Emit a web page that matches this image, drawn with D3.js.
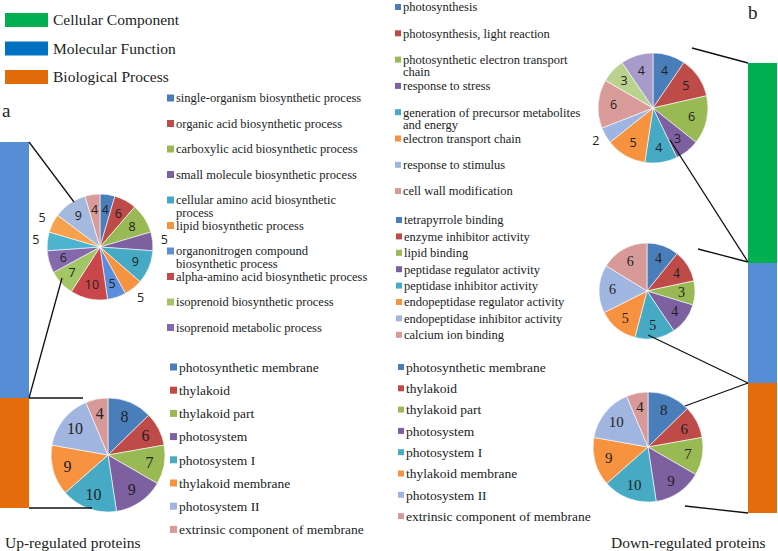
<!DOCTYPE html>
<html><head><meta charset="utf-8">
<script src="https://cdn.jsdelivr.net/npm/d3@7"></script>
<style>body{margin:0;background:#fff}svg{display:block}</style>
</head><body>
<svg id="chart" width="778" height="551"></svg>
<script>
// ---------- DATA ----------
const ontologyCategories = ["Cellular Component","Molecular Function","Biological Process"];
const ontologyColors = ["#00B050","#0070C0","#E36C0A"];

// Up-regulated, Biological Process (14 slices, 10 legend entries)
const upBPCategories = ["single-organism biosynthetic process","organic acid biosynthetic process","carboxylic acid biosynthetic process","small molecule biosynthetic process","cellular amino acid biosynthetic\nprocess","lipid biosynthetic process","organonitrogen compound\nbiosynthetic process","alpha-amino acid biosynthetic process","isoprenoid biosynthetic process","isoprenoid metabolic process"];
const upBPValues = [4,6,8,5,9,5,5,10,7,6,5,5,9,4];
const upBPOutside = [3,5,10,11];

// Cellular Component (same for up and down)
const ccCategories = ["photosynthetic membrane","thylakoid","thylakoid part","photosystem","photosystem I","thylakoid membrane","photosystem II","extrinsic component of membrane"];
const upCCValues = [8,6,7,9,10,9,10,4];
const downCCValues = [8,6,7,9,10,9,10,4];

// Down-regulated, Biological Process
const downBPCategories = ["photosynthesis","photosynthesis, light reaction","photosynthetic electron transport\nchain","response to stress","generation of precursor metabolites\nand energy","electron transport chain","response to stimulus","cell wall modification"];
const downBPValues = [4,5,6,3,4,5,2,6,3,4];
const downBPOutside = [6];

// Down-regulated, Molecular Function
const downMFCategories = ["tetrapyrrole binding","enzyme inhibitor activity","lipid binding","peptidase regulator activity","peptidase inhibitor activity","endopeptidase regulator activity","endopeptidase inhibitor activity","calcium ion binding"];
const downMFValues = [4,4,3,4,5,5,6,6];

// Stacked bar composition (relative heights)
const upBarValues = [0, 256, 110];     // CC, MF, BP segments for "a"
const downBarValues = [200, 120, 130]; // CC, MF, BP for "b"

const palette14 = ["#4A7EBB","#BE4B48","#98B954","#7D60A0","#46AAC5","#F69240","#5A8DDA","#C9474B","#A2C565","#8469AC","#4DB4CF","#F7A04D","#A5B9DF","#D99A9A"];
const palette8 = ["#4A7EBB","#BE4B48","#98B954","#7D60A0","#46AAC5","#F69240","#A0B6E0","#D79A99"];
const palette10 = ["#4A7EBB","#BE4B48","#98B954","#7D60A0","#46AAC5","#F69240","#9DB5E0","#D99A9A","#B9D38E","#A99BC9"];

// ---------- DRAW ----------
const svg = d3.select("#chart");
const serif = "'Liberation Serif','Times New Roman',serif";
const sans = "'Open Sans','Liberation Sans',sans-serif";

// top-left legend
const topLeg = svg.append("g");
ontologyCategories.forEach((c,i)=>{
  const y = 13 + i*28.5;
  topLeg.append("rect").attr("x",5).attr("y",y).attr("width",43).attr("height",14).attr("fill",ontologyColors[i]);
  topLeg.append("text").attr("x",53).attr("y",y+12).attr("font-family",serif).attr("font-size",15.5).attr("fill","#222").text(c);
});

svg.append("text").attr("x",2).attr("y",117).attr("font-family",serif).attr("font-size",19).attr("fill","#222").text("a");
svg.append("text").attr("x",748).attr("y",19).attr("font-family",serif).attr("font-size",19).attr("fill","#222").text("b");

// stacked bars
function stackBar(vals, x, y0, y1, colors){
  const total = d3.sum(vals);
  const s = d3.scaleLinear().domain([0,total]).range([y0,y1]);
  let acc = 0;
  const bounds = [];
  vals.forEach((v,i)=>{
    if(v>0) svg.append("rect").attr("x",x).attr("width",29).attr("y",s(acc)).attr("height",s(acc+v)-s(acc)).attr("fill",colors[i]);
    bounds.push([s(acc), s(acc+v)]);
    acc += v;
  });
  return bounds;
}
const barColors = ["#00B050","#558ED5","#E46C0A"];
const ub = stackBar(upBarValues, 0, 142, 508, barColors);
const db = stackBar(downBarValues, 748, 63, 513, barColors);

// pies
function drawPie(vals, cx, cy, r, colors, opts){
  const pie = d3.pie().sort(null).value(d=>d);
  const arcs = pie(vals);
  const arc = d3.arc().innerRadius(0).outerRadius(r);
  const lab = d3.arc().innerRadius(r*opts.lr).outerRadius(r*opts.lr);
  const out = d3.arc().innerRadius(r*opts.or).outerRadius(r*opts.or);
  const g = svg.append("g").attr("transform",`translate(${cx},${cy})`);
  g.selectAll("path").data(arcs).join("path").attr("d",arc).attr("fill",(d,i)=>colors[i]).attr("stroke","#fff").attr("stroke-width",0.6);
  g.selectAll("text").data(arcs).join("text")
    .attr("transform",(d,i)=>`translate(${(opts.outside||[]).includes(i)?out.centroid(d):lab.centroid(d)})`)
    .attr("text-anchor","middle").attr("dy","0.35em")
    .attr("font-family",opts.font).attr("font-size",opts.fs).attr("fill","#222")
    .text(d=>d.data);
}
drawPie(upBPValues, 100, 247, 53, palette14, {lr:0.72, or:1.22, outside:upBPOutside, font:sans, fs:12.5});
drawPie(upCCValues, 108, 455, 57, palette8, {lr:0.74, font:serif, fs:16});
drawPie(downBPValues, 653, 108, 55, palette10, {lr:0.72, or:1.2, outside:downBPOutside, font:sans, fs:12.5});
drawPie(downMFValues, 647, 291, 48, palette8, {lr:0.72, font:serif, fs:14});
drawPie(downCCValues, 648, 447, 55, palette8, {lr:0.74, font:serif, fs:15});

// legends
function legend(items, colors, mx, ty, step, fs, ms){
  const g = svg.append("g");
  items.forEach((t,i)=>{
    const y = ty + i*step;
    g.append("rect").attr("x",mx).attr("y",y-ms/2).attr("width",ms).attr("height",ms).attr("fill",colors[i]);
    const lines = t.split("\n");
    const tx = g.append("text").attr("x",mx+ms+2).attr("y",y).attr("dy","0.35em").attr("font-family",serif).attr("font-size",fs).attr("fill","#222");
    lines.forEach((l,j)=>tx.append("tspan").attr("x",mx+ms+2).attr("dy",j===0?"0.35em":fs).text(l));
  });
}
legend(upBPCategories, palette14, 167, 98, 25.5, 12.5, 7);
legend(ccCategories, palette8, 170, 367, 23.2, 13.5, 7);
legend(downBPCategories, palette10, 395, 7, 26.3, 12.5, 6);
legend(downMFCategories, palette8, 396, 220, 16.4, 12.5, 6);
legend(ccCategories, palette8, 398, 367, 21.3, 13.5, 6);

// connector lines
const lines = [
  [29,142,74,202],[29,398,62,278],[29,398,83,398],[29,508,92,508],
  [748,63,692,48],[748,262,670,140],[748,262,698,249],
  [748,383,648,335],[748,383,685,406],[748,513,685,506]
];
svg.selectAll("line.c").data(lines).join("line").attr("class","c")
  .attr("x1",d=>d[0]).attr("y1",d=>d[1]).attr("x2",d=>d[2]).attr("y2",d=>d[3])
  .attr("stroke","#111").attr("stroke-width",1.3);

// bottom labels
svg.append("text").attr("x",5).attr("y",548).attr("font-family",serif).attr("font-size",15.5).attr("fill","#222").text("Up-regulated proteins");
svg.append("text").attr("x",611).attr("y",548).attr("font-family",serif).attr("font-size",15.5).attr("fill","#222").text("Down-regulated proteins");
</script>
</body></html>
